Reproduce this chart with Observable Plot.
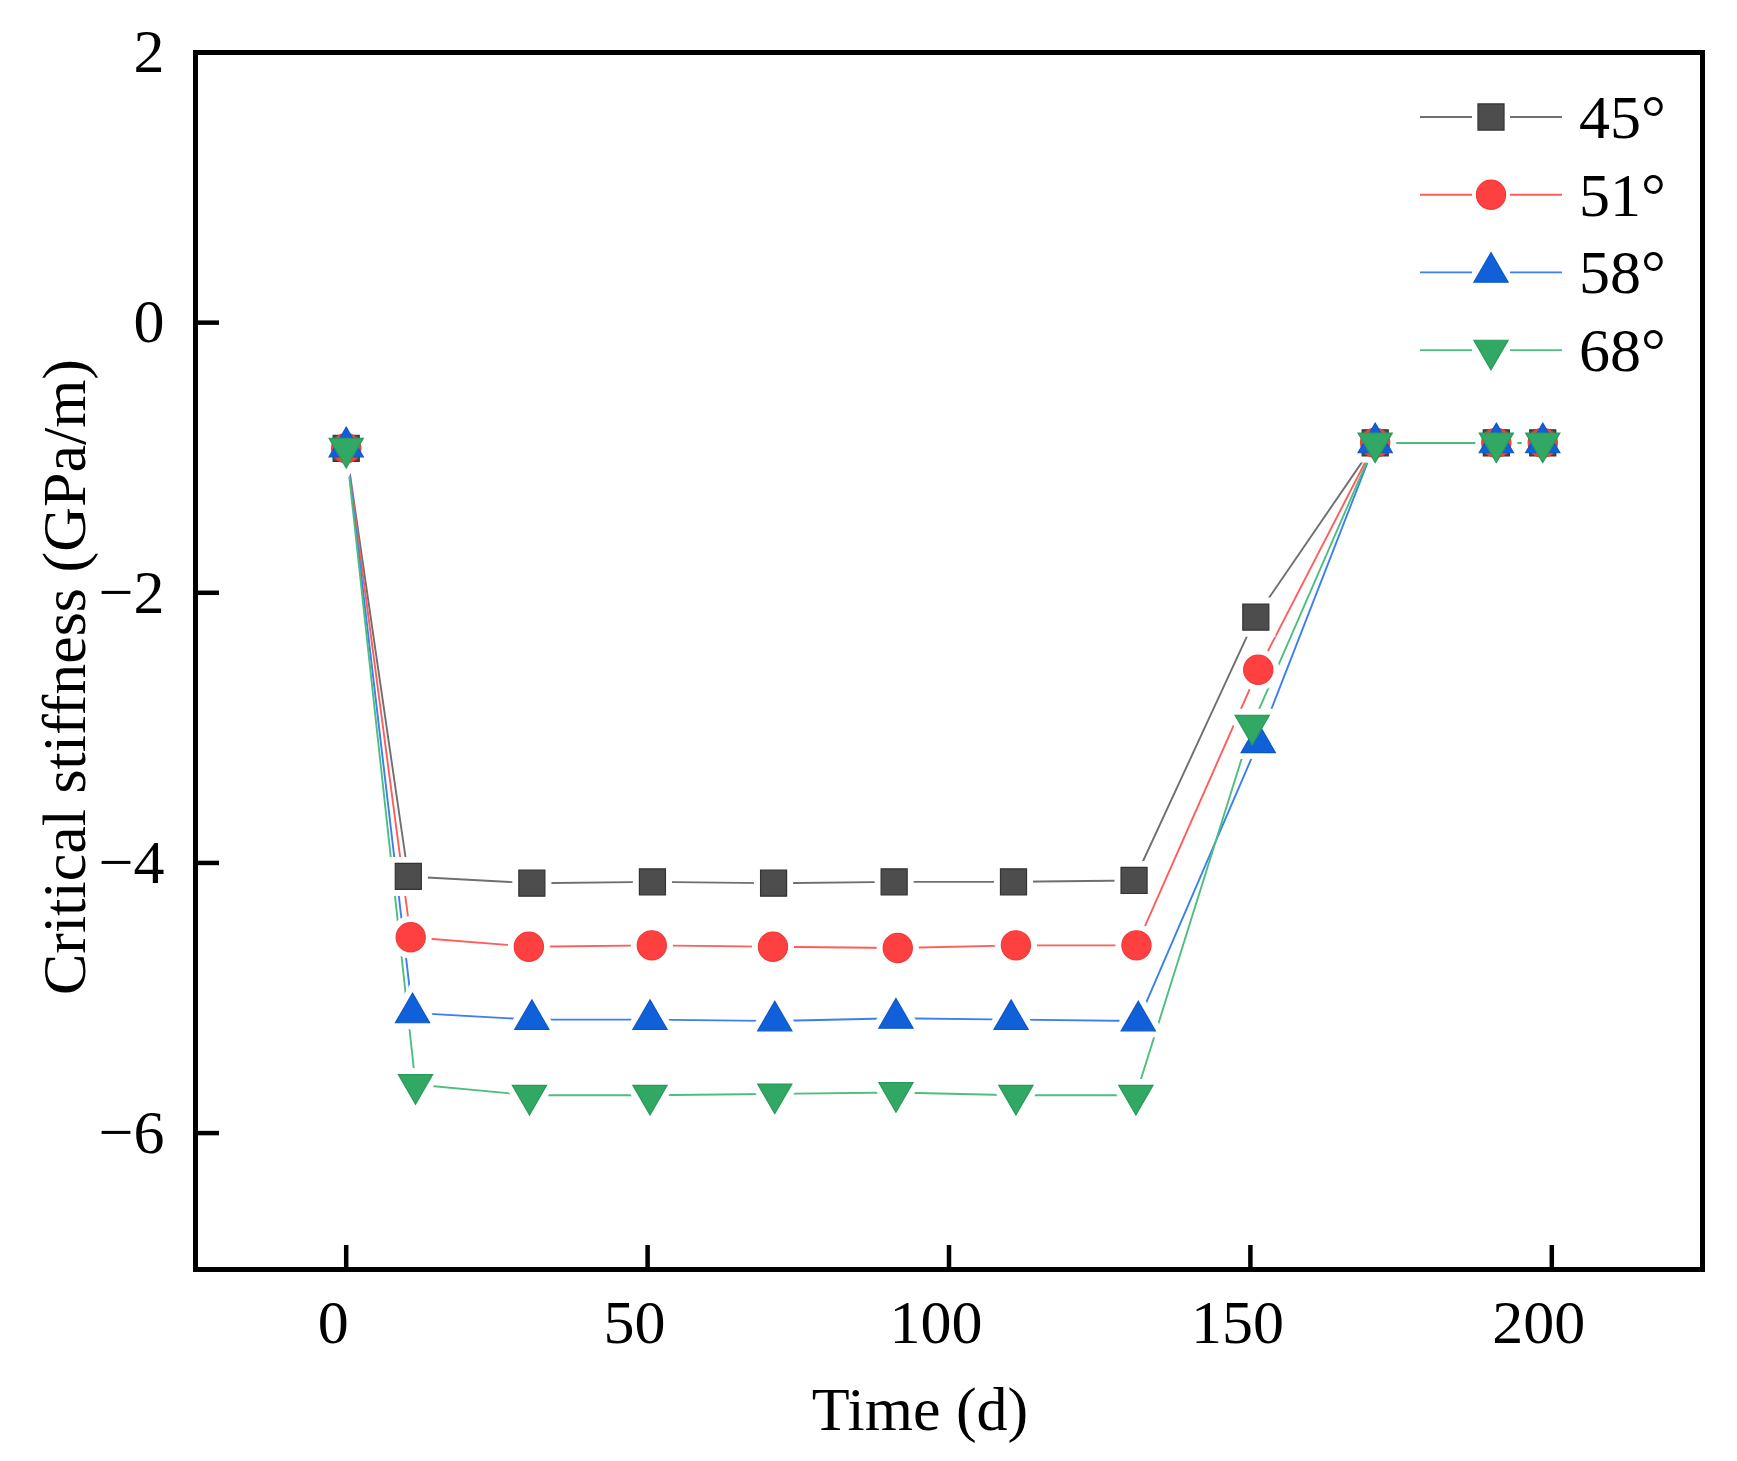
<!DOCTYPE html>
<html>
<head>
<meta charset="utf-8">
<script src="https://cdn.jsdelivr.net/npm/d3@7"></script>
<script src="https://cdn.jsdelivr.net/npm/@observablehq/plot@0.6"></script>
<style>
  body { margin: 0; background: #fff; }
</style>
</head>
<body>
<div id="chart"></div>
<script>
// series names (inclination angle)
const series = ["45°", "51°", "58°", "68°"];

// time (d) for every series
const time45 = [0, 10.3, 30.8, 50.8, 70.9, 90.9, 110.7, 130.7, 150.9, 170.7, 190.8, 198.5];
const time51 = [0, 10.7, 30.3, 50.7, 70.8, 91.5, 111.1, 131.1, 151.3, 170.7, 190.8, 198.5];
const time58 = [0, 11.0, 30.8, 50.4, 71.1, 91.2, 110.3, 131.4, 151.3, 170.7, 190.8, 198.5];
const time68 = [0, 11.5, 30.4, 50.4, 71.1, 91.2, 111.1, 131.0, 150.3, 170.7, 190.8, 198.5];

// critical stiffness (GPa/m)
const stiff45 = [-0.93, -4.10, -4.15, -4.14, -4.15, -4.14, -4.14, -4.13, -2.18, -0.89, -0.89, -0.89];
const stiff51 = [-0.93, -4.55, -4.62, -4.61, -4.62, -4.63, -4.61, -4.61, -2.57, -0.89, -0.89, -0.89];
const stiff58 = [-0.92, -5.11, -5.16, -5.16, -5.17, -5.15, -5.16, -5.17, -3.11, -0.89, -0.89, -0.89];
const stiff68 = [-0.93, -5.64, -5.72, -5.72, -5.71, -5.70, -5.72, -5.72, -2.98, -0.89, -0.89, -0.89];

const xTicks = [0, 50, 100, 150, 200];
const yTicks = [2, 0, -2, -4, -6];

const times = [time45, time51, time58, time68];
const stiffs = [stiff45, stiff51, stiff58, stiff68];

const lineColors = ["#6f6f6f", "#ff5c5c", "#3b7ff0", "#4cbf7e"];
const fillColors = ["#4d4d4d", "#ff4040", "#1061d9", "#31a864"];
const edgeColors = ["#333333", "#f03a3a", "#0d58c8", "#2a9a5a"];

// downward triangle, same geometry as d3.symbolTriangle flipped
const triangleDown = {
  draw(context, size) {
    const y = -Math.sqrt(size / (Math.sqrt(3) * 3));
    context.moveTo(0, -y * 2);
    context.lineTo(Math.sqrt(3) * y, y);
    context.lineTo(-Math.sqrt(3) * y, y);
    context.closePath();
  }
};
const symbols = [d3.symbolSquare, d3.symbolCircle, d3.symbolTriangle, triangleDown];
const radii = [14.7, 14.6, 12.7, 12.7];

const tables = series.map((s, i) =>
  times[i].map((t, j) => ({series: s, time: t, stiff: stiffs[i][j]}))
);

// legend drawn in the upper right corner of the frame
function legend(index, scales, values, dimensions) {
  const g = d3.create("svg:g");
  const right = dimensions.width - dimensions.marginRight;
  const top = dimensions.marginTop;
  series.forEach((s, i) => {
    const cx = right - 211;
    const cy = top + 65 + i * 77.7;
    for (const [a, b] of [[-71, -19], [19, 71]]) {
      g.append("line")
        .attr("x1", cx + a).attr("x2", cx + b)
        .attr("y1", cy).attr("y2", cy)
        .attr("stroke", lineColors[i])
        .attr("stroke-width", 1.9);
    }
    g.append("path")
      .attr("transform", `translate(${cx},${cy})`)
      .attr("d", d3.symbol(symbols[i], Math.PI * radii[i] ** 2)())
      .attr("fill", fillColors[i])
      .attr("stroke", edgeColors[i])
      .attr("stroke-width", 1.2);
    g.append("text")
      .attr("x", cx + 88).attr("y", cy).attr("dy", "0.34em")
      .attr("text-anchor", "start")
      .attr("fill", "black")
      .text(s);
  });
  return g.node();
}

let chart = Plot.plot({
  width: 1737,
  height: 1461,
  marginLeft: 195,
  marginRight: 35,
  marginTop: 52,
  marginBottom: 192,
  style: {fontFamily: "'Liberation Serif', 'Times New Roman', serif", fontSize: "62px", color: "black", background: "white"},
  x: {domain: [-25, 225]},
  y: {domain: [-7.01, 2]},
  marks: [
    // lines first
    ...tables.map((d, i) => Plot.line(d, {x: "time", y: "stiff", stroke: lineColors[i], strokeWidth: 1.9})),
    // white halos give the small gap between line and symbol
    ...tables.map((d, i) => Plot.dot(d, {x: "time", y: "stiff", symbol: symbols[i], r: radii[i], fill: "white", stroke: "white", strokeWidth: 13})),
    ...tables.map((d, i) => Plot.dot(d, {x: "time", y: "stiff", symbol: symbols[i], r: radii[i], fill: fillColors[i], stroke: edgeColors[i], strokeWidth: 1.2})),
    Plot.axisY(yTicks, {tickSize: -24, tickPadding: 55, strokeWidth: 4.5, tickFormat: d3.format("d"), label: null}),
    Plot.axisX(xTicks, {tickSize: -24, strokeWidth: 4.5, fill: "none", label: null}),
    Plot.axisX(xTicks, {tickSize: 0, tickPadding: 29, dx: -13, tickFormat: d3.format("d"), label: null}),
    Plot.text(["Time (d)"], {text: d => d, frameAnchor: "bottom", dx: -29, dy: 141, lineAnchor: "middle"}),
    Plot.text(["Critical stiffness (GPa/m)"], {text: d => d, frameAnchor: "left", textAnchor: "middle", rotate: -90, dx: -130, dy: 16, lineAnchor: "middle"}),
    legend,
    Plot.frame({stroke: "black", strokeWidth: 5})
  ]
});

d3.select('#chart').append(() => chart);
</script>
</body>
</html>
